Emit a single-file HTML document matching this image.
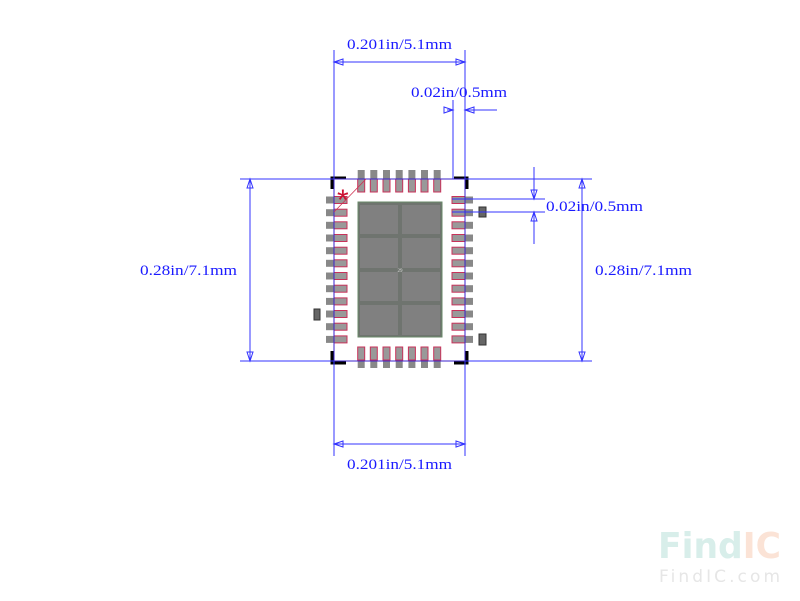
<!DOCTYPE html>
<html><head><style>body{margin:0;background:#fff}svg{display:block}text{font-family:"Liberation Serif","DejaVu Serif",serif;font-size:15px;fill:#1a1aff}</style></head><body>
<svg width="800" height="601" viewBox="0 0 800 601" xmlns="http://www.w3.org/2000/svg">
<defs>
<g id="lp"><rect x="0" y="0" width="21" height="7" fill="#888"/><rect x="8" y="0" width="13" height="7" fill="#999" stroke="#c8325a"/></g>
<g id="rp"><rect x="0" y="0" width="21" height="7" fill="#888"/><rect x="0" y="0" width="13" height="7" fill="#999" stroke="#c8325a"/></g>
<g id="tp"><rect x="0" y="0" width="7" height="22" fill="#888"/><rect x="0" y="9" width="7" height="13" fill="#999" stroke="#c8325a"/></g>
<g id="bp"><rect x="0" y="0" width="7" height="21" fill="#888"/><rect x="0" y="0" width="7" height="13" fill="#999" stroke="#c8325a"/></g>
</defs>
<g>
<use href="#lp" x="326" y="196.5"/><use href="#lp" x="326" y="209.2"/><use href="#lp" x="326" y="221.8"/><use href="#lp" x="326" y="234.5"/><use href="#lp" x="326" y="247.2"/><use href="#lp" x="326" y="259.8"/><use href="#lp" x="326" y="272.5"/><use href="#lp" x="326" y="285.2"/><use href="#lp" x="326" y="297.9"/><use href="#lp" x="326" y="310.5"/><use href="#lp" x="326" y="323.2"/><use href="#lp" x="326" y="335.9"/>
<use href="#rp" x="452" y="196.5"/><use href="#rp" x="452" y="209.2"/><use href="#rp" x="452" y="221.8"/><use href="#rp" x="452" y="234.5"/><use href="#rp" x="452" y="247.2"/><use href="#rp" x="452" y="259.8"/><use href="#rp" x="452" y="272.5"/><use href="#rp" x="452" y="285.2"/><use href="#rp" x="452" y="297.9"/><use href="#rp" x="452" y="310.5"/><use href="#rp" x="452" y="323.2"/><use href="#rp" x="452" y="335.9"/>
<use href="#tp" x="357.7" y="170"/><use href="#tp" x="370.3" y="170"/><use href="#tp" x="383" y="170"/><use href="#tp" x="395.7" y="170"/><use href="#tp" x="408.4" y="170"/><use href="#tp" x="421" y="170"/><use href="#tp" x="433.7" y="170"/>
<use href="#bp" x="357.7" y="347"/><use href="#bp" x="370.3" y="347"/><use href="#bp" x="383" y="347"/><use href="#bp" x="395.7" y="347"/><use href="#bp" x="408.4" y="347"/><use href="#bp" x="421" y="347"/><use href="#bp" x="433.7" y="347"/>
</g>
<rect x="358" y="202" width="84" height="135" fill="#6f746f" stroke="#6a8a6a"/>
<g fill="#808080">
<rect x="360" y="205" width="38" height="29"/><rect x="402" y="205" width="38" height="29"/>
<rect x="360" y="238" width="38" height="30"/><rect x="402" y="238" width="38" height="30"/>
<rect x="360" y="272" width="38" height="29"/><rect x="402" y="272" width="38" height="29"/>
<rect x="360" y="305" width="38" height="30"/><rect x="402" y="305" width="38" height="30"/>
</g>
<rect x="314" y="309" width="6" height="11" fill="#666" stroke="#333"/>
<rect x="479" y="207" width="7" height="10" fill="#666" stroke="#333"/>
<rect x="479" y="334" width="7" height="11" fill="#666" stroke="#333"/>
<g stroke="#000" stroke-width="3" fill="none">
<path d="M332,189 V178 H346"/><path d="M454,178 H467 V189"/>
<path d="M332,351 V363 H346"/><path d="M454,363 H467 V351"/>
</g>
<rect x="334" y="179" width="131" height="182" fill="none" stroke="#3a22cc" stroke-width="1"/>
<line x1="334" y1="212" x2="366" y2="179" stroke="#d03050" stroke-width="0.8"/>
<text x="337" y="210" style="fill:#cc1133;font-size:30px;font-family:'Liberation Sans',sans-serif">*</text>
<g stroke="#3333ff" stroke-width="1" fill="none">
<line x1="334" y1="50" x2="334" y2="179"/><line x1="465" y1="50" x2="465" y2="179"/>
<line x1="334" y1="62" x2="465" y2="62"/>
<line x1="453" y1="100" x2="453" y2="179"/>
<line x1="447" y1="110" x2="453" y2="110"/><line x1="465" y1="110" x2="497" y2="110"/>
<line x1="334" y1="361" x2="334" y2="456"/><line x1="465" y1="361" x2="465" y2="456"/>
<line x1="334" y1="444" x2="465" y2="444"/>
<line x1="240" y1="179" x2="334" y2="179"/><line x1="240" y1="361" x2="334" y2="361"/>
<line x1="250" y1="179" x2="250" y2="361"/>
<line x1="465" y1="179" x2="592" y2="179"/><line x1="465" y1="361" x2="592" y2="361"/>
<line x1="582" y1="179" x2="582" y2="361"/>
<line x1="452" y1="199" x2="545" y2="199"/><line x1="452" y1="212" x2="545" y2="212"/>
<line x1="534" y1="167" x2="534" y2="199"/><line x1="534" y1="212" x2="534" y2="244"/>
</g>
<g fill="none" stroke="#3333ff" stroke-width="1">
<path d="M343,59 L334,62 L343,65Z"/><path d="M456,59 L465,62 L456,65Z"/>
<path d="M343,441 L334,444 L343,447Z"/><path d="M456,441 L465,444 L456,447Z"/>
<path d="M444,107 L453,110 L444,113Z"/><path d="M474,107 L465,110 L474,113Z"/>
<path d="M247,188 L250,179 L253,188Z"/><path d="M247,352 L250,361 L253,352Z"/>
<path d="M579,188 L582,179 L585,188Z"/><path d="M579,352 L582,361 L585,352Z"/>
<path d="M531,190 L534,199 L537,190Z"/><path d="M531,221 L534,212 L537,221Z"/>
</g>
<text x="347" y="49" textLength="105" lengthAdjust="spacingAndGlyphs">0.201in/5.1mm</text>
<text x="411" y="97" textLength="96" lengthAdjust="spacingAndGlyphs">0.02in/0.5mm</text>
<text x="347" y="469" textLength="105" lengthAdjust="spacingAndGlyphs">0.201in/5.1mm</text>
<text x="140" y="275" textLength="97" lengthAdjust="spacingAndGlyphs">0.28in/7.1mm</text>
<text x="595" y="275" textLength="97" lengthAdjust="spacingAndGlyphs">0.28in/7.1mm</text>
<text x="546" y="211" textLength="97" lengthAdjust="spacingAndGlyphs">0.02in/0.5mm</text>
<text x="400" y="272" style="font-size:5px;fill:#ddd" text-anchor="middle">29</text>
<text x="658" y="558" textLength="123" lengthAdjust="spacingAndGlyphs" style="font-family:'DejaVu Sans',sans-serif;font-weight:bold;font-size:36px;fill:#d8eeea">Find<tspan style="fill:#fbe3d6">IC</tspan></text>
<text x="659" y="582" textLength="121" lengthAdjust="spacing" style="font-family:'DejaVu Sans',sans-serif;font-size:17px;fill:#e6e6e6">FindIC.com</text>
</svg>
</body></html>
